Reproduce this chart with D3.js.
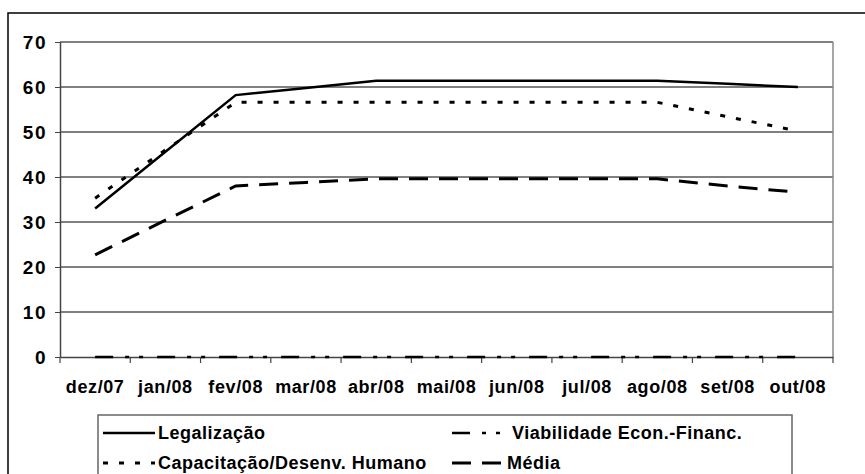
<!DOCTYPE html>
<html>
<head>
<meta charset="utf-8">
<script src="https://cdn.jsdelivr.net/npm/d3@7"></script>
<style>
  body { margin: 0; background: #fff; }
  text { font-family: "Liberation Sans", Arial, sans-serif; font-weight: bold; fill: #000; }
</style>
</head>
<body>
<div id="chart"></div>
<script>
// chart data
const months = ["dez/07", "jan/08", "fev/08", "mar/08", "abr/08", "mai/08", "jun/08", "jul/08", "ago/08", "set/08", "out/08"];
const legalizacao = [33.0, 45.6, 58.2, 59.8, 61.4, 61.4, 61.4, 61.4, 61.4, 60.7, 60.0];
const viabilidade = [0, 0, 0, 0, 0, 0, 0, 0, 0, 0, 0];
const capacitacao = [35.3, 46.0, 56.6, 56.6, 56.6, 56.6, 56.6, 56.6, 56.6, 53.4, 50.2];
const media = [22.7, 30.4, 38.0, 38.8, 39.6, 39.6, 39.6, 39.6, 39.6, 38.0, 36.6];
const yTicks = [0, 10, 20, 30, 40, 50, 60, 70];

const width = 865;
const height = 474;
const plot = {left: 60, right: 833, top: 42, bottom: 357};

const svg = d3.select("#chart")
  .append("svg")
  .attr("width", width)
  .attr("height", height);

// outer chart border (right/bottom run off the picture)
svg.append("rect")
  .attr("x", 8).attr("y", 13)
  .attr("width", 900).attr("height", 500)
  .attr("fill", "none")
  .attr("stroke", "#000")
  .attr("stroke-width", 1.5);

const x = d3.scaleBand()
  .domain(months)
  .range([plot.left, plot.right])
  .padding(0);

const y = d3.scaleLinear()
  .domain([0, 70])
  .range([plot.bottom, plot.top]);

// gridlines
svg.append("g")
  .selectAll("line")
  .data(yTicks.filter(d => d > 0))
  .enter()
  .append("line")
    .attr("x1", plot.left)
    .attr("x2", plot.right)
    .attr("y1", d => y(d))
    .attr("y2", d => y(d))
    .attr("stroke", "#000")
    .attr("stroke-width", 1);

// right border of plot area
svg.append("line")
  .attr("x1", plot.right).attr("x2", plot.right)
  .attr("y1", plot.top).attr("y2", plot.bottom)
  .attr("stroke", "#888")
  .attr("stroke-width", 1.5);

// y axis
const yAxis = svg.append("g")
  .attr("transform", `translate(${plot.left},0)`)
  .call(d3.axisLeft(y).tickValues(yTicks).tickSize(5).tickSizeOuter(0).tickPadding(8));
yAxis.select(".domain").attr("stroke", "#444").attr("stroke-width", 1.5);
yAxis.selectAll(".tick line").attr("stroke", "#444");
yAxis.selectAll("text")
  .attr("font-size", "19px")
  .attr("font-family", null)
  .attr("letter-spacing", "1.5px");

// x axis: labels centred in bands, ticks on band edges
const xAxis = svg.append("g")
  .attr("transform", `translate(0,${plot.bottom})`)
  .call(d3.axisBottom(x).tickSize(0).tickSizeOuter(0).tickPadding(0));
xAxis.select(".domain").attr("stroke", "#444").attr("stroke-width", 1.5);
xAxis.selectAll("text")
  .attr("font-size", "18px")
  .attr("font-family", null)
  .attr("letter-spacing", "0.6px")
  .attr("dy", null)
  .attr("y", 36);
xAxis.selectAll(".edge")
  .data(d3.range(months.length + 1))
  .enter()
  .append("line")
    .attr("class", "edge")
    .attr("x1", i => plot.left + i * x.step())
    .attr("x2", i => plot.left + i * x.step())
    .attr("y1", 0)
    .attr("y2", 6)
    .attr("stroke", "#444")
    .attr("stroke-width", 1.2);

// series
const series = [
  {name: "Legalização", values: legalizacao, dash: null, width: 2.5},
  {name: "Viabilidade Econ.-Financ.", values: viabilidade, dash: "18,12,4,10,4,14", width: 2.5},
  {name: "Capacitação/Desenv. Humano", values: capacitacao, dash: "5,11", width: 3},
  {name: "Média", values: media, dash: "19,11", width: 3}
];

const line = d3.line()
  .x((d, i) => x(months[i]) + x.bandwidth() / 2)
  .y(d => y(d));

svg.append("g")
  .selectAll("path")
  .data(series)
  .enter()
  .append("path")
    .attr("d", d => line(d.values))
    .attr("fill", "none")
    .attr("stroke", "#000")
    .attr("stroke-width", d => d.width)
    .attr("stroke-dasharray", d => d.dash);

// legend
const legend = svg.append("g");
legend.append("rect")
  .attr("x", 98).attr("y", 415)
  .attr("width", 694).attr("height", 120)
  .attr("fill", "#fff")
  .attr("stroke", "#666")
  .attr("stroke-width", 1.5);

const legendPos = [
  {lx: 103, tx: 158, ty: 433},
  {lx: 452, tx: 512, ty: 433},
  {lx: 103, tx: 158, ty: 463},
  {lx: 452, tx: 507, ty: 463}
];

const items = legend.selectAll(".item")
  .data(series)
  .enter()
  .append("g")
    .attr("class", "item");

items.append("line")
  .attr("x1", (d, i) => legendPos[i].lx)
  .attr("x2", (d, i) => legendPos[i].lx + 52)
  .attr("y1", (d, i) => legendPos[i].ty)
  .attr("y2", (d, i) => legendPos[i].ty)
  .attr("stroke", "#000")
  .attr("stroke-width", d => d.width)
  .attr("stroke-dasharray", d => d.dash);

items.append("text")
  .attr("x", (d, i) => legendPos[i].tx)
  .attr("y", (d, i) => legendPos[i].ty)
  .attr("dy", "0.35em")
  .attr("font-size", "18px")
  .attr("letter-spacing", "0.5px")
  .text(d => d.name);
</script>
</body>
</html>
